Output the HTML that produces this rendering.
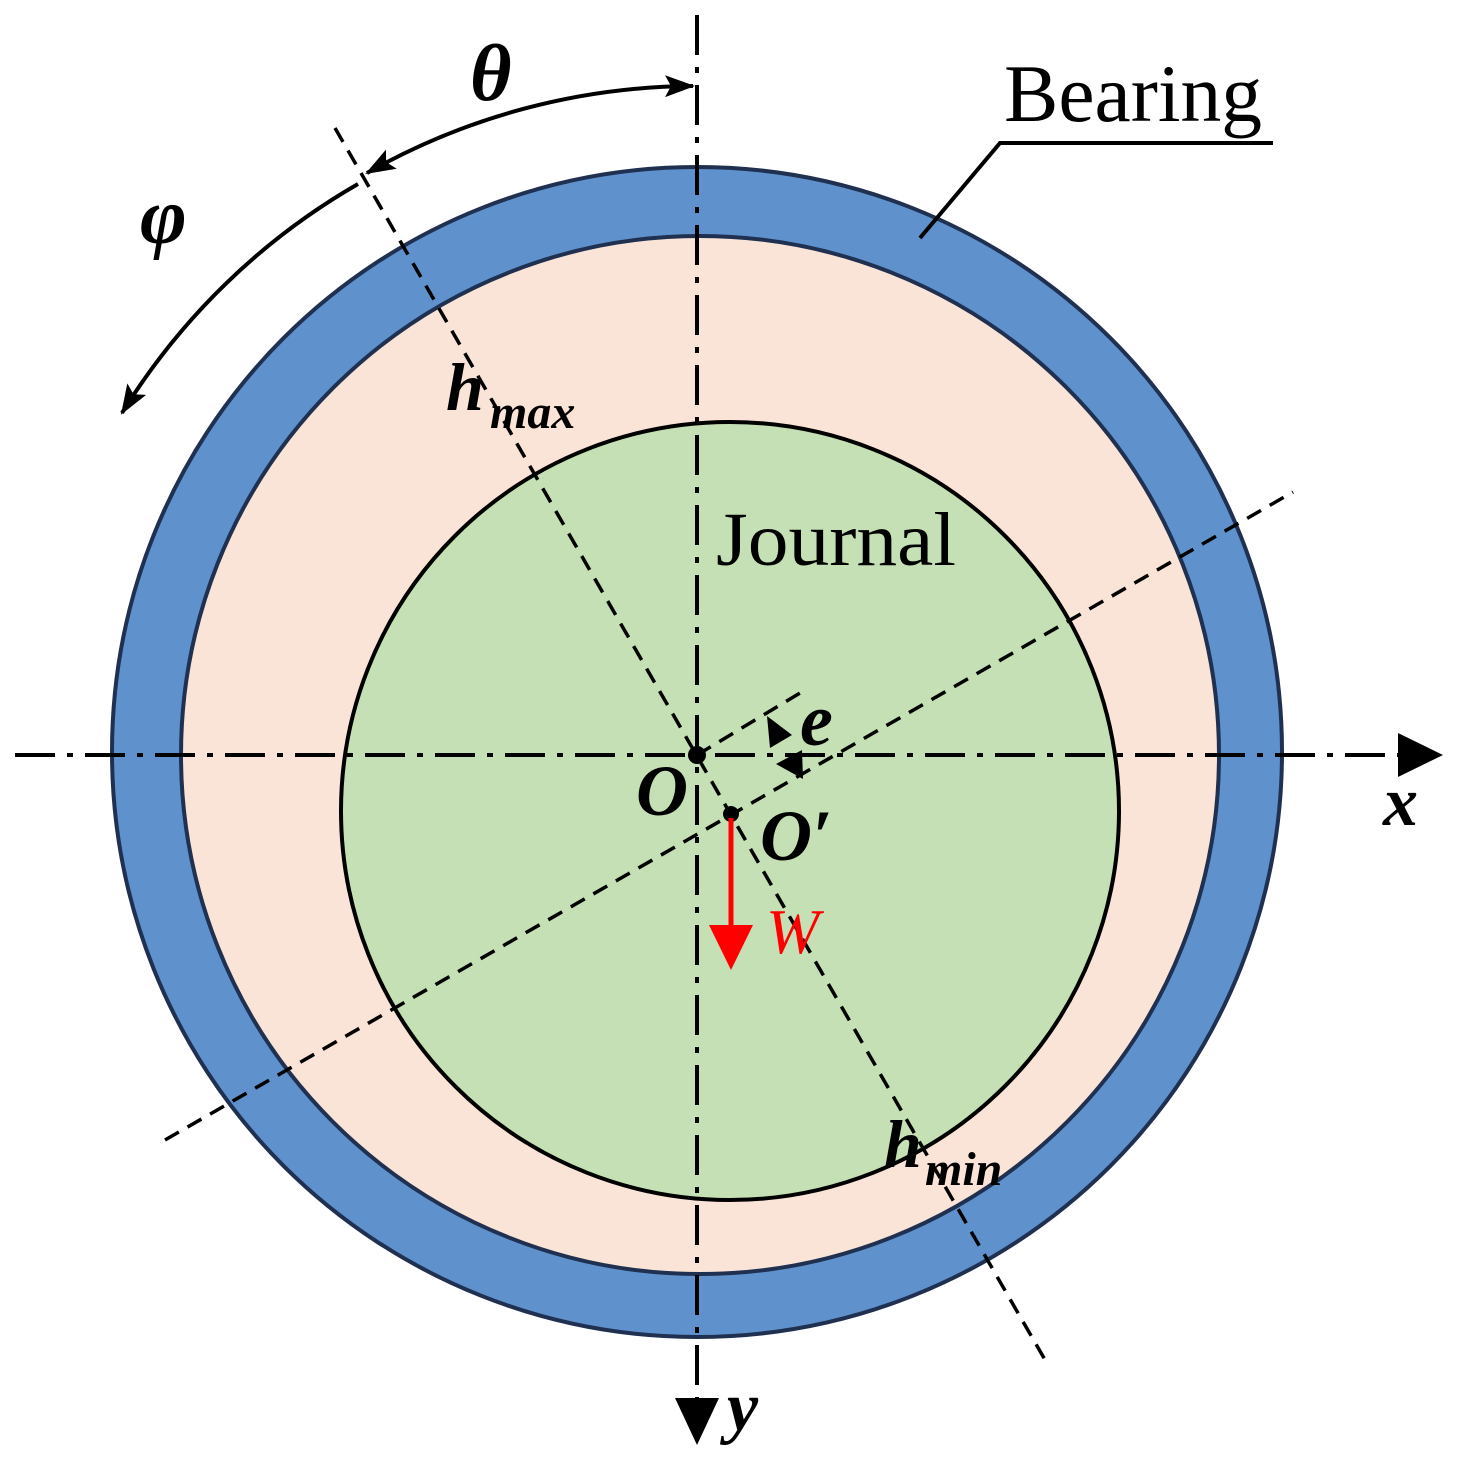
<!DOCTYPE html>
<html><head><meta charset="utf-8"><style>html,body{margin:0;padding:0;background:#fff}svg{display:block}</style></head>
<body>
<svg width="1460" height="1460" viewBox="0 0 1460 1460" xmlns="http://www.w3.org/2000/svg">
<defs>
<marker id="ah" viewBox="0 0 30 22" refX="28" refY="11" markerWidth="30" markerHeight="22" markerUnits="userSpaceOnUse" orient="auto-start-reverse"><path d="M0,0 L30,11 L0,22 L6,11 Z" fill="#000"/></marker>
</defs>
<circle cx="697" cy="752" r="585" fill="#5F91CC" stroke="#1F3050" stroke-width="4"/>
<circle cx="700" cy="755" r="519" fill="#FAE4D7" stroke="#1F3050" stroke-width="4"/>
<circle cx="730" cy="811" r="389" fill="#C5E0B4" stroke="#000" stroke-width="4"/>
<g stroke="#000" stroke-width="3.5" stroke-dasharray="16,10" fill="none">
<line x1="335" y1="128" x2="1048" y2="1365"/>
<line x1="165" y1="1140" x2="1293" y2="492"/>
<line x1="697" y1="755" x2="805" y2="690"/>
</g>
<g stroke="#000" stroke-width="4" stroke-dasharray="40,12,6,12" fill="none">
<line x1="15" y1="755" x2="1400" y2="755"/>
<line x1="697" y1="15" x2="697" y2="1400"/>
</g>
<path d="M1398,733 L1443,755 L1398,777 Z" fill="#000"/>
<path d="M675,1398 L697,1445 L719,1398 Z" fill="#000"/>
<path d="M367,173 A669 669 0 0 1 693,86" fill="none" stroke="#000" stroke-width="4" marker-start="url(#ah)" marker-end="url(#ah)"/>
<path d="M358,184 A669 669 0 0 0 122,413" fill="none" stroke="#000" stroke-width="4" marker-end="url(#ah)"/>
<polyline points="920,238 1000,143 1273,143" fill="none" stroke="#000" stroke-width="4"/>
<text x="1004" y="121" font-family="Liberation Serif, serif" font-size="82" textLength="258" lengthAdjust="spacingAndGlyphs">Bearing</text>
<text x="716" y="565" font-family="Liberation Serif, serif" font-size="76" textLength="240" lengthAdjust="spacingAndGlyphs">Journal</text>
<circle cx="697" cy="755" r="9" fill="#000"/>
<circle cx="731" cy="814" r="8" fill="#000"/>
<path d="M767,716 L792,735 L770,748 Z" fill="#000"/>
<path d="M776,764 L802,750 L803,779 Z" fill="#000"/>
<line x1="731" y1="818" x2="731" y2="930" stroke="#FF0000" stroke-width="5"/>
<path d="M709,925 L753,925 L731,970 Z" fill="#FF0000"/>
<g font-family="Liberation Serif, serif" font-style="italic" font-weight="bold">
<text x="470" y="100" font-size="80">θ</text>
<text x="140" y="243" font-size="80">φ</text>
<text x="446" y="410" font-size="68">h</text>
<text x="490" y="428" font-size="48">max</text>
<text x="884" y="1167" font-size="68">h</text>
<text x="925" y="1185" font-size="48">min</text>
<text x="800" y="745" font-size="74">e</text>
<text x="636" y="815" font-size="72">O</text>
<text x="760" y="860" font-size="72">O′</text>
<text x="1383" y="825" font-size="70">x</text>
<text x="727" y="1430" font-size="70">y</text>
</g>
<text x="766" y="953" font-family="Liberation Serif, serif" font-style="italic" font-size="64" fill="#FF0000">W</text>
</svg>
</body></html>
